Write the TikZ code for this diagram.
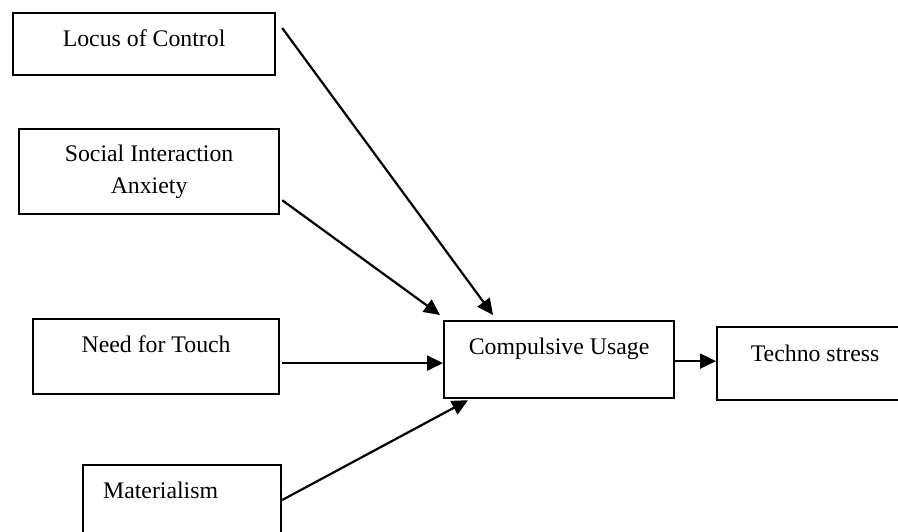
\documentclass[tikz,border=0pt]{standalone}
\usepackage{fontspec}
\setmainfont{Liberation Serif}
\usetikzlibrary{arrows.meta}

\begin{document}
\begin{tikzpicture}[x=1pt,y=-1pt,
  factor/.style={draw, line width=2.2pt, inner sep=0pt, anchor=north west, align=center, font=\fontsize{23.8}{32}\selectfont},
  link/.style={line width=2.2pt, -{Triangle[length=16pt,width=15pt]}}]%
\useasboundingbox (0,0) rectangle (898,531);%
\clip (0,0) rectangle (898,531);%
% antecedents
\node[factor, minimum width=262pt, text height=33pt, text depth=29pt] (loc) at (12,12) {Locus of Control};%
\node[factor, minimum width=260pt, text height=64pt, text depth=21pt] (sia) at (18,128) {Social Interaction\\Anxiety};%
\node[factor, minimum width=246pt, text height=33pt, text depth=42pt] (nft) at (32,318) {Need for Touch};%
\node[factor, align=left, inner xsep=20pt, text width=158pt, text height=33pt, text depth=48pt] (mat) at (82,464) {Materialism};%
% outcomes
\node[factor, minimum width=230pt, text height=33pt, text depth=44pt] (cu) at (443,320) {Compulsive Usage};%
\node[factor, minimum width=196pt, text height=34pt, text depth=39pt] (ts) at (716,326) {Techno stress};%
% paths
\draw[link] ([shift={(6,16)}]loc.north east) -- ([shift={(50,-5)}]cu.north west);%
\draw[link] ([shift={(2,-15)}]sia.south east) -- ([shift={(-3,-5)}]cu.north west);%
\draw[link] ([shift={(2,6.5)}]nft.east) -- ([shift={(0,3.5)}]cu.west);%
\draw[link] ([shift={(0,36)}]mat.north east) -- ([shift={(25,1)}]cu.south west);%
\draw[link] ([yshift=-1.5pt]cu.east) -- ([yshift=-1.5pt]cu.east -| ts.west);%
\end{tikzpicture}
\end{document}
